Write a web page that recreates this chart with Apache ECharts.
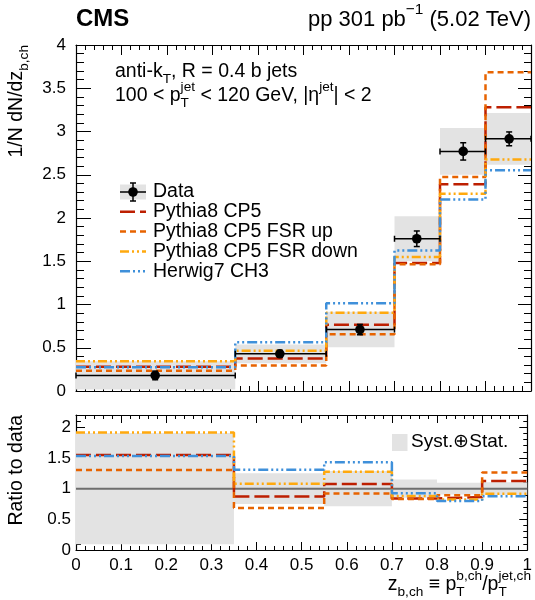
<!DOCTYPE html>
<html>
<head>
<meta charset="utf-8">
<script src="https://cdn.jsdelivr.net/npm/echarts@6/dist/echarts.min.js"></script>
<style>html,body{margin:0;padding:0;background:#fff}#chart{width:535px;height:600px}</style>
</head>
<body>
<div id="chart"></div>
<script>
// ---- data ----
const binEdges  = [0, 0.35, 0.55, 0.7, 0.8, 0.9, 1.0];
const dataX     = [0.174, 0.448, 0.624, 0.749, 0.851, 0.952];
const dataY     = [0.18, 0.43, 0.71, 1.76, 2.77, 2.915];
const dataStat  = [0.05, 0.04, 0.06, 0.09, 0.10, 0.08];
const dataTotal = [0.163, 0.108, 0.205, 0.26, 0.27, 0.30];
const pythiaCP5 = [0.279, 0.375, 0.765, 1.48, 2.39, 3.28];
const fsrUp     = [0.235, 0.295, 0.655, 1.465, 2.475, 3.685];
const fsrDown   = [0.345, 0.465, 0.905, 1.55, 2.28, 2.675];
const herwig    = [0.276, 0.563, 1.015, 1.625, 2.215, 2.553];
const xTicks = [0, 0.1, 0.2, 0.3, 0.4, 0.5, 0.6, 0.7, 0.8, 0.9, 1];

const FONT = '"Liberation Sans", Arial, Helvetica, sans-serif';
const mcSeries = [
  {name: 'Pythia8 CP5',          vals: pythiaCP5, color: '#bd1f01', dash: [15, 5]},
  {name: 'Pythia8 CP5 FSR up',   vals: fsrUp,     color: '#e76300', dash: [6, 4]},
  {name: 'Pythia8 CP5 FSR down', vals: fsrDown,   color: '#ffa90e', dash: [9, 3, 2, 3, 2, 3]},
  {name: 'Herwig7 CH3',          vals: herwig,    color: '#3f90da', dash: [10, 3, 2, 3, 2, 3, 2, 3]}
];

function stepPoints(vals) {
  const pts = [];
  vals.forEach((v, i) => { pts.push([binEdges[i], v]); pts.push([binEdges[i + 1], v]); });
  return pts;
}
const ratio = vals => vals.map((v, i) => v / dataY[i]);

// ---- text helpers ----
const cv = document.createElement('canvas').getContext('2d');
function tw(s, fs, bold) { cv.font = (bold ? 'bold ' : '') + fs + 'px ' + FONT; return cv.measureText(s).width; }
function txt(x, y, s, fs, bold) {
  return {type: 'text', x: x, y: y, silent: true,
    style: {text: s, font: (bold ? 'bold ' : '') + fs + 'px ' + FONT, fill: '#000',
      align: 'left', verticalAlign: 'middle', textAlign: 'left', textVerticalAlign: 'middle'}};
}
function mathGroup(segs, fs, anchor, pos, rot) {
  const kids = []; let x = 0; const s = 0.7 * fs;
  segs.forEach(g => {
    if (g.t) { kids.push(txt(x, 0, g.t, fs, g.bold)); x += tw(g.t, fs, g.bold); }
    let w = 0;
    if (g.sup) { kids.push(txt(x, -0.45 * fs, g.sup, s)); w = Math.max(w, tw(g.sup, s)); }
    if (g.sub) { kids.push(txt(x, 0.38 * fs, g.sub, s)); w = Math.max(w, tw(g.sub, s)); }
    x += w;
  });
  const off = anchor === 'right' ? -x : anchor === 'center' ? -x / 2 : 0;
  kids.forEach(k => { k.x += off; });
  return {type: 'group', x: pos[0], y: pos[1], rotation: rot || 0, children: kids};
}

// ---- axes ----
function xAx(grid, pos, labels, tl, ml) {
  return {type: 'value', gridIndex: grid, position: pos, min: 0, max: 1, interval: 0.1,
    axisLine: {show: true, onZero: false, lineStyle: {color: '#000', width: 1.2}},
    axisTick: {show: true, inside: true, length: tl, lineStyle: {color: '#000', width: 1}},
    minorTick: {show: true, splitNumber: 5, length: ml, lineStyle: {color: '#000', width: 1}},
    splitLine: {show: false},
    axisLabel: {show: labels, color: '#000', fontSize: 17, fontFamily: FONT, margin: 7,
      formatter: v => String(Math.round(v * 10) / 10)}};
}
function yAx(grid, pos, max, labels, tl, ml, margin) {
  return {type: 'value', gridIndex: grid, position: pos, min: 0, max: max, interval: 0.5,
    axisLine: {show: true, onZero: false, lineStyle: {color: '#000', width: 1.2}},
    axisTick: {show: true, inside: true, length: tl, lineStyle: {color: '#000', width: 1}},
    minorTick: {show: true, splitNumber: 5, length: ml, lineStyle: {color: '#000', width: 1}},
    splitLine: {show: false},
    axisLabel: {show: labels, color: '#000', fontSize: 17, fontFamily: FONT, margin: margin,
      showMaxLabel: max === 4}};
}

// ---- series ----
const bandRender = (params, api) => {
  const p1 = api.coord([api.value(0), api.value(3)]);
  const p2 = api.coord([api.value(1), api.value(2)]);
  return {type: 'rect', shape: {x: p1[0], y: p1[1], width: p2[0] - p1[0], height: p2[1] - p1[1]},
    style: {fill: '#e3e3e3'}};
};
const bandsUpper = dataY.map((y, i) => [binEdges[i], binEdges[i + 1], y - dataTotal[i], y + dataTotal[i]]);
const bandsLower = dataY.map((y, i) => [binEdges[i], binEdges[i + 1], 1 - dataTotal[i] / y, 1 + dataTotal[i] / y]);
const dataRows = dataY.map((y, i) => [binEdges[i], binEdges[i + 1], dataX[i], y, dataStat[i]]);

const series = [];
series.push({type: 'custom', xAxisIndex: 0, yAxisIndex: 0, renderItem: bandRender, data: bandsUpper,
  encode: {x: [0, 1], y: [2, 3]}, silent: true, z: 1});
series.push({type: 'custom', xAxisIndex: 2, yAxisIndex: 2, renderItem: bandRender, data: bandsLower,
  encode: {x: [0, 1], y: [2, 3]}, silent: true, z: 1});
series.push({type: 'line', xAxisIndex: 2, yAxisIndex: 2, data: [[0, 1], [1, 1]], symbol: 'none',
  lineStyle: {color: '#6e6e6e', width: 2}, silent: true, z: 2});
mcSeries.forEach(m => {
  series.push({type: 'line', name: m.name, xAxisIndex: 0, yAxisIndex: 0, data: stepPoints(m.vals),
    symbol: 'none', lineStyle: {color: m.color, width: 2.5, type: m.dash}, silent: true, z: 3});
  series.push({type: 'line', xAxisIndex: 2, yAxisIndex: 2, data: stepPoints(ratio(m.vals)),
    symbol: 'none', lineStyle: {color: m.color, width: 2.5, type: m.dash}, silent: true, z: 3});
});
series.push({type: 'custom', xAxisIndex: 0, yAxisIndex: 0, silent: true, z: 5, data: dataRows,
  encode: {x: [0, 1, 2], y: [3]},
  renderItem: (params, api) => {
    const lo = api.value(0), hi = api.value(1), xm = api.value(2), y = api.value(3), e = api.value(4);
    const a = api.coord([lo, y]), b = api.coord([hi, y]), c = api.coord([xm, y]);
    const t = api.coord([xm, y + e]), d = api.coord([xm, y - e]);
    const st = {stroke: '#000', lineWidth: 1.5};
    const L = (x1, y1, x2, y2) => ({type: 'line', shape: {x1, y1, x2, y2}, style: st});
    return {type: 'group', children: [
      L(a[0], a[1], b[0], b[1]),
      L(a[0], a[1] - 3, a[0], a[1] + 3), L(b[0], b[1] - 3, b[0], b[1] + 3),
      L(t[0], t[1], d[0], d[1]),
      L(t[0] - 3, t[1], t[0] + 3, t[1]), L(d[0] - 3, d[1], d[0] + 3, d[1]),
      {type: 'circle', shape: {cx: c[0], cy: c[1], r: 4.8}, style: {fill: '#000'}}
    ]};
  }});

// ---- graphic texts & legends ----
const FS = 19.5;
const graphics = [];
graphics.push(txt(76, 19, 'CMS', 24, true));
graphics.push(mathGroup([{t: 'pp 301 pb', sup: '\u22121'}, {t: ' (5.02 TeV)'}], 22, 'right', [531, 20]));
graphics.push(mathGroup([{t: 'anti-k', sub: 'T'}, {t: ', R = 0.4 b jets'}], FS, 'left', [115, 72]));
graphics.push(mathGroup([{t: '100 < p', sup: 'jet', sub: 'T'}, {t: ' < 120 GeV, |\u03b7', sup: 'jet'}, {t: '| < 2'}], FS, 'left', [115, 96]));
graphics.push(mathGroup([{t: '1/N dN/dz', sub: 'b,ch'}], FS, 'right', [17, 45], Math.PI / 2));
graphics.push(mathGroup([{t: 'Ratio to data'}], FS, 'right', [17, 415], Math.PI / 2));
graphics.push(mathGroup([{t: 'z', sub: 'b,ch'}, {t: ' \u2261 p', sup: 'b,ch', sub: 'T'}, {t: '/p', sup: 'jet,ch', sub: 'T'}], FS, 'right', [531, 585]));

// upper legend
const lgX1 = 120, lgX2 = 146, lgTx = 153, lgY0 = 192, lgDy = 19.8;
graphics.push({type: 'rect', shape: {x: lgX1, y: lgY0 - 7.5, width: lgX2 - lgX1, height: 15}, style: {fill: '#e3e3e3'}, silent: true});
graphics.push({type: 'line', shape: {x1: lgX1, y1: lgY0, x2: lgX2, y2: lgY0}, style: {stroke: '#000', lineWidth: 1.5}, silent: true});
graphics.push({type: 'line', shape: {x1: 133, y1: lgY0 - 9, x2: 133, y2: lgY0 + 9}, style: {stroke: '#000', lineWidth: 1.5}, silent: true});
graphics.push({type: 'line', shape: {x1: 130, y1: lgY0 - 9, x2: 136, y2: lgY0 - 9}, style: {stroke: '#000', lineWidth: 1.5}, silent: true});
graphics.push({type: 'line', shape: {x1: 130, y1: lgY0 + 9, x2: 136, y2: lgY0 + 9}, style: {stroke: '#000', lineWidth: 1.5}, silent: true});
graphics.push({type: 'circle', shape: {cx: 133, cy: lgY0, r: 4.8}, style: {fill: '#000'}, silent: true});
graphics.push(txt(lgTx, lgY0, 'Data', FS));
mcSeries.forEach((m, i) => {
  const y = lgY0 + lgDy * (i + 1);
  graphics.push({type: 'line', shape: {x1: lgX1, y1: y, x2: lgX2, y2: y},
    style: {stroke: m.color, lineWidth: 2.5, lineDash: m.dash}, silent: true});
  graphics.push(txt(lgTx, y, m.name, FS));
});
// lower legend
graphics.push({type: 'rect', shape: {x: 392, y: 434, width: 15.5, height: 17}, style: {fill: '#e3e3e3'}, silent: true});
graphics.push(txt(411, 442, 'Syst.\u2295Stat.', 19));

const option = {
  animation: false,
  backgroundColor: '#fff',
  textStyle: {fontFamily: FONT},
  grid: [
    {left: 76, right: 4, top: 45, height: 346},
    {left: 76, right: 4, top: 415, height: 135}
  ],
  xAxis: [
    xAx(0, 'bottom', false, 10, 5),
    xAx(0, 'top', false, 10, 5),
    xAx(1, 'bottom', true, 8, 4),
    xAx(1, 'top', false, 8, 4)
  ],
  yAxis: [
    yAx(0, 'left', 4, true, 15, 8, 10),
    yAx(0, 'right', 4, false, 13, 7, 8),
    yAx(1, 'left', 2.2, true, 9, 5, 5),
    yAx(1, 'right', 2.2, false, 8, 4, 5)
  ],
  series: series,
  graphic: graphics
};
const chart = echarts.init(document.getElementById('chart'), null, {renderer: 'canvas'});
chart.setOption(option);
</script>
</body>
</html>
